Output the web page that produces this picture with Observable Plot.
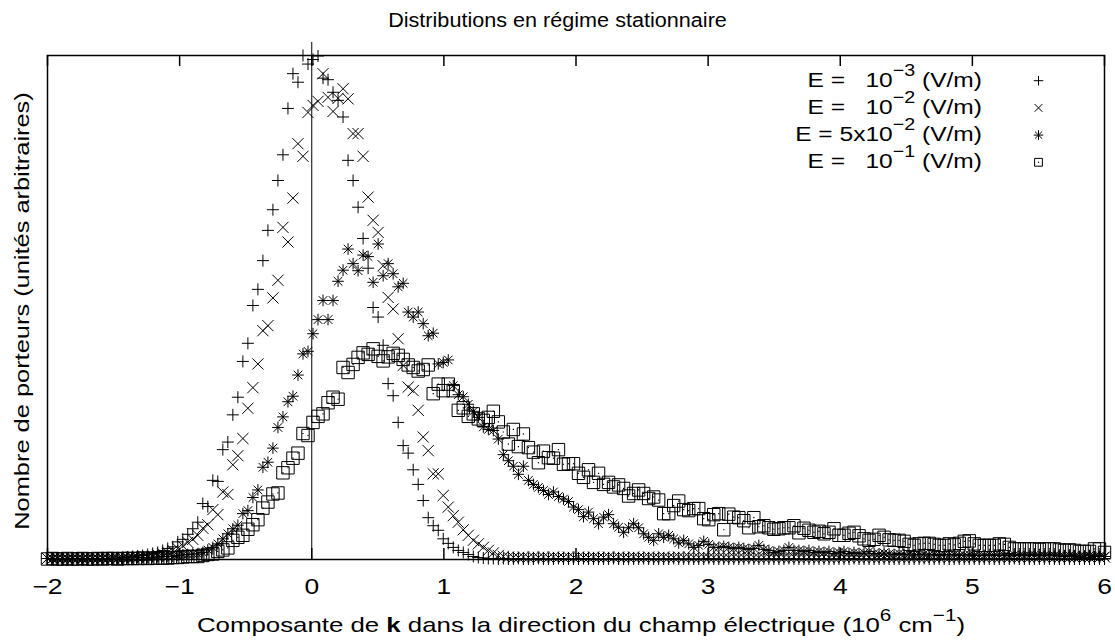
<!DOCTYPE html>
<html>
<head>
<meta charset="utf-8">
<script src="https://cdn.jsdelivr.net/npm/d3@7"></script>
<script src="https://cdn.jsdelivr.net/npm/@observablehq/plot@0.6"></script>
<style>
  body { margin: 0; background: #fff; }
  #chart svg { display: block; }
</style>
</head>
<body>
<div id="chart"></div>
<script>
// ---- data (k in 10^6 cm^-1, carrier count in arbitrary units) ----
const kMin = -2, kMax = 6, nBins = 212;
const xTicks = [-2, -1, 0, 1, 2, 3, 4, 5, 6];

const titleText = "Distributions en régime stationnaire";
const yLabelText = "Nombre de porteurs (unités arbitraires)";

// E = 1e-3 V/m  (+)
const e1 = [
  0.2,0.1,0.2,0.1,0.2,0.1,0.2,0.2,0.1,0.2,
  0.1,0.2,0.2,0.3,0.3,0.4,0.5,0.6,0.7,0.8,
  1.0,1.2,1.4,1.8,2.2,2.5,3.5,4.0,5.0,6.1,
  7.4,11.1,10.5,15.7,15.5,21.8,23.3,28.7,32.2,39.3,
  42.9,50.4,53.6,59.3,65.3,69.4,75.2,80.3,89.5,96.4,
  94.7,100,98.3,99.2,99.9,95.5,95.2,92.7,91.1,87.8,
  79.2,75.2,69.9,63.7,57.8,50.0,48.1,42.5,34.9,32.5,
  27.2,22.6,21.1,17.8,14.9,11.7,8.3,6.7,5.8,4.1,
  3.2,2.4,1.8,1.4,1.0,0.6,0.4,0.3,0.2,0.2,
  0.1,0.2,0.1,0.1,0.2,0.1,0.1,0.1,0.2,0.1,
  0.1,0.1,0.2,0.1,0.1,0.1,0.1,0.2,0.1,0.1,
  0.1,0.1,0.1,0.2,0.1,0.1,0.1,0.1,0.1,0.2,
  0.1,0.1,0.1,0.1,0.1,0.2,0.1,0.1,0.1,0.1,
  0.1,0.1,0.2,0.1,0.1,0.1,0.1,0.1,0.1,0.1,
  0.2,0.1,0.1,0.1,0.1,0.1,0.1,0.1,0.2,0.1,
  0.1,0.1,0.1,0.1,0.1,0.1,0.1,0.1,0.1,0.1,
  0.1,0.2,0.1,0.1,0.1,0.1,0.1,0.1,0.1,0.1,
  0.1,0.1,0.1,0.1,0.1,0.2,0.1,0.1,0.1,0.1,
  0.1,0.1,0.1,0.1,0.1,0.1,0.1,0.1,0.1,0.1,
  0.1,0.1,0.1,0.2,0.1,0.1,0.1,0.1,0.1,0.1,
  0.1,0.1,0.1,0.1,0.1,0.1,0.1,0.1,0.1,0.1,
  0.1,0.1
];

// E = 1e-2 V/m  (x)
const e2 = [
  0.2,0.2,0.3,0.2,0.2,0.3,0.2,0.2,0.3,0.2,
  0.2,0.3,0.2,0.3,0.2,0.3,0.3,0.4,0.4,0.5,
  0.6,0.7,0.9,1.1,1.4,1.8,2.2,2.7,3.4,4.0,
  4.8,6.2,6.9,9.9,8.9,13.4,12.9,18.8,20.6,24.0,
  30.0,34.1,38.8,45.4,46.4,51.9,55.4,65.9,63.0,71.7,
  82.5,80.0,88.7,90.1,90.9,96.4,91.7,88.9,91.5,93.4,
  91.4,84.5,84.5,80.0,71.9,67.3,64.9,58.3,52.0,49.7,
  43.8,38.5,34.2,33.5,29.6,24.3,21.6,17.0,17.0,12.7,
  10.4,8.7,7.4,5.9,4.8,3.8,3.1,2.4,1.8,1.3,
  0.8,0.6,0.5,0.4,0.4,0.5,0.4,0.5,0.4,0.5,
  0.4,0.5,0.4,0.4,0.5,0.4,0.5,0.4,0.4,0.5,
  0.4,0.4,0.5,0.4,0.5,0.4,0.4,0.5,0.4,0.4,
  0.5,0.4,0.4,0.5,0.4,0.4,0.5,0.4,0.5,0.4,
  0.4,0.5,0.4,0.4,0.5,0.4,0.4,0.5,0.4,0.4,
  0.5,0.4,0.4,0.4,0.5,0.4,0.5,0.4,0.4,0.5,
  0.4,0.4,0.5,0.4,0.4,0.5,0.4,0.4,0.4,0.5,
  0.4,0.5,0.4,0.4,0.5,0.4,0.4,0.5,0.4,0.4,
  0.5,0.4,0.4,0.5,0.4,0.4,0.4,0.5,0.4,0.5,
  0.4,0.4,0.5,0.4,0.4,0.5,0.4,0.4,0.5,0.4,
  0.4,0.5,0.4,0.4,0.4,0.5,0.4,0.4,0.5,0.4,
  0.5,0.4,0.4,0.5,0.4,0.4,0.5,0.4,0.4,0.5,
  0.4,0.5
];

// E = 5e-2 V/m  (*)
const e3 = [
  0.2,0.1,0.2,0.2,0.1,0.2,0.2,0.1,0.2,0.2,
  0.2,0.2,0.2,0.3,0.2,0.3,0.3,0.3,0.4,0.4,
  0.4,0.5,0.5,0.6,0.6,0.6,0.8,0.9,1.0,1.1,
  1.1,1.4,1.9,2.4,3.1,4.1,5.1,6.1,6.8,9.1,
  9.7,12.3,13.8,18.3,19.3,22.1,26.2,28.3,31.3,32.4,
  36.6,40.8,41.3,44.8,47.6,51.4,47.6,51.4,55.2,57.4,
  61.6,58.7,57.3,60.4,60.1,55.0,62.6,56.3,58.7,56.7,
  54.1,54.8,49.1,48.1,49.1,46.8,44.4,44.9,38.8,39.1,
  39.6,34.5,32.7,32.3,30.8,29.4,28.2,26.3,25.8,25.6,
  23.9,20.8,19.6,18.5,16.9,18.5,15.7,14.9,14.3,13.7,
  12.9,13.4,12.5,12.0,11.5,10.4,9.9,8.5,9.4,8.1,
  7.1,8.4,8.9,7.1,6.4,5.4,6.3,7.1,6.3,5.1,
  4.4,3.8,5.1,4.4,4.8,4.1,3.3,3.8,3.1,2.4,
  2.8,3.6,3.0,2.4,2.4,2.6,2.4,2.2,2.4,2.2,
  2.0,2.2,2.8,2.0,1.8,1.4,1.6,1.8,2.4,1.8,
  1.8,1.6,1.8,1.4,1.6,1.4,1.6,1.2,1.4,1.6,
  1.2,1.4,1.2,1.3,1.6,1.2,1.1,1.3,1.1,1.0,
  1.2,1.0,1.1,0.9,1.0,1.1,0.9,1.0,0.8,1.0,
  0.9,1.0,0.8,0.9,1.0,0.8,0.9,0.8,1.0,0.8,
  0.9,0.8,0.7,0.9,0.8,0.7,0.8,0.9,0.7,0.8,
  0.7,0.8,0.7,0.6,0.8,0.7,0.6,0.7,0.8,0.6,
  0.7,0.6
];

// E = 1e-1 V/m  (boxed dot)
const e4 = [
  0.1,0.2,0.1,0.1,0.2,0.1,0.1,0.2,0.1,0.1,
  0.2,0.1,0.2,0.2,0.1,0.2,0.2,0.2,0.2,0.3,
  0.2,0.3,0.3,0.3,0.3,0.4,0.4,0.5,0.6,0.6,
  0.6,0.8,1.0,1.1,1.6,1.9,2.3,3.8,4.4,4.8,
  6.0,6.9,7.9,10.2,11.4,13.0,13.2,17.2,18.2,20.1,
  21.1,25.0,24.6,27.2,28.4,28.9,31.1,32.2,31.8,38.1,
  37.1,38.7,40.1,41.0,40.7,41.8,40.3,39.4,40.2,40.9,
  40.5,39.7,38.6,38.1,37.4,37.7,38.6,32.9,34.8,33.5,
  34.8,33.5,29.6,30.1,28.4,28.9,27.9,27.6,28.2,29.4,
  27.3,25.3,22.9,25.8,22.4,24.9,22.2,21.3,19.2,21.5,
  20.2,20.1,21.8,18.9,19.0,19.0,17.1,16.3,17.8,15.3,
  17.1,14.9,15.3,14.4,14.8,14.1,12.6,13.1,13.8,13.1,
  12.1,12.4,11.8,9.1,9.1,10.7,11.6,9.9,9.7,10.1,
  10.1,8.1,7.9,8.9,9.1,5.9,9.0,8.4,8.3,7.7,
  6.3,8.3,6.5,6.7,6.3,6.0,6.1,6.3,6.3,6.7,
  5.3,6.2,5.8,5.4,5.6,5.1,5.4,6.1,4.8,4.8,
  5.2,5.4,4.7,4.1,3.8,4.0,4.8,4.4,3.9,3.8,
  3.8,3.6,3.0,2.8,3.1,3.2,3.2,3.0,2.8,2.8,
  3.1,2.9,3.2,3.6,3.7,3.1,2.8,2.8,2.8,2.8,
  3.1,3.0,2.4,2.1,2.1,2.1,2.1,2.1,2.0,2.1,
  2.1,2.1,1.9,1.8,1.9,1.8,1.6,1.6,1.6,2.1,
  2.1,1.4
];

const legendMain = ["E =   10", "E =   10", "E = 5x10", "E =   10"];
const legendExp  = ["−3", "−2", "−2", "−1"];
const legendUnit = " (V/m)";

// ---- build chart ----
const W = 1115, H = 644;
const FONT = "'Liberation Sans', Arial, Helvetica, sans-serif";
const FS = 21;          // font size
const STRETCH = 1.17;   // horizontal glyph stretch of the original PostScript font

const kGrid = d3.range(nBins).map(i => kMin + i * (kMax - kMin) / (nBins - 1));
const table = vals => vals.map((v, i) => ({k: kGrid[i], n: v}));

// stroke symbols with fixed pixel half-size
const plusSym  = h => ({draw(c) { c.moveTo(-h, 0); c.lineTo(h, 0); c.moveTo(0, -h); c.lineTo(0, h); }});
const timesSym = h => ({draw(c) { c.moveTo(-h, -h); c.lineTo(h, h); c.moveTo(-h, h); c.lineTo(h, -h); }});
const squareSym = h => ({draw(c) { c.rect(-h, -h, 2 * h, 2 * h); }});
const dotSym = h => ({draw(c) { c.rect(-h, -h, 2 * h, 2 * h); }});

const strokeOpts = {x: "k", y: "n", r: 5, fill: "none", stroke: "#000", strokeWidth: 1};

const plot = Plot.plot({
  width: W,
  height: H,
  marginLeft: 47,
  marginRight: 11,
  marginTop: 55,
  marginBottom: 85,
  style: {fontFamily: FONT, fontSize: FS + "px", background: "#fff", color: "#000", overflow: "visible"},
  x: {domain: [kMin, kMax]},
  y: {domain: [0, 100], axis: null},
  marks: [
    Plot.ruleX([0], {y1: 0, y2: 102.6, stroke: "#000", strokeWidth: 1}),
    Plot.dot(table(e1), {...strokeOpts, symbol: plusSym(6)}),
    Plot.dot(table(e2), {...strokeOpts, symbol: timesSym(5.6)}),
    Plot.dot(table(e3), {...strokeOpts, symbol: plusSym(5.8)}),
    Plot.dot(table(e3), {...strokeOpts, symbol: timesSym(4.3)}),
    Plot.dot(table(e4), {...strokeOpts, symbol: squareSym(6.2)}),
    Plot.dot(table(e4), {x: "k", y: "n", r: 1, fill: "#000", stroke: "none", symbol: dotSym(0.6)}),
    Plot.frame({stroke: "#000", strokeWidth: 1.5}),
    Plot.ruleX(xTicks, {y1: 0, y2: 2.2, stroke: "#000", strokeWidth: 1.5}),
    Plot.ruleX(xTicks, {y1: 100, y2: 97.8, stroke: "#000", strokeWidth: 1.5}),
    Plot.axisX({ticks: xTicks, tickSize: 0, tickPadding: 19, label: null, fontSize: 22,
                tickFormat: d => (d < 0 ? "−" + (-d) : String(d))})
  ]
});

document.getElementById("chart").appendChild(plot);
const svg = d3.select(plot);

// stretch axis tick labels horizontally like the original font
svg.selectAll('g[aria-label="x-axis tick label"] text').each(function () {
  const t = this.getAttribute("transform") || "";
  const x = +this.getAttribute("x") || 0;
  this.setAttribute("transform", `${t} translate(${x},0) scale(1.2,1) translate(${-x},0)`);
});

const RAISE = 11;
function rich(parts, transform, anchor) {
  const t = svg.append("text")
    .attr("transform", transform)
    .attr("text-anchor", anchor)
    .attr("font-family", FONT)
    .attr("font-size", FS)
    .attr("fill", "#000")
    .style("white-space", "pre");
  let shift = 0;
  for (const p of parts) {
    const target = p.sup ? -RAISE : 0;
    const ts = t.append("tspan").text(p.t);
    if (target !== shift) { ts.attr("dy", target - shift); shift = target; }
    if (p.sup) ts.attr("font-size", FS * 0.8);
    if (p.bold) ts.attr("font-weight", "bold");
  }
  return t;
}

// title
rich([{t: titleText}], `translate(557.5,27) scale(1.03,1)`, "middle");
// x label
rich([
  {t: "Composante de "}, {t: "k", bold: true}, {t: " dans la direction du champ électrique (10"},
  {t: "6", sup: true}, {t: " cm"}, {t: "−1", sup: true}, {t: ")"}
], `translate(581,632) scale(1.23,1)`, "middle");
// y label
rich([{t: yLabelText}], `translate(29,311) rotate(-90) scale(1.21,1)`, "middle");

// legend (inside the frame, top right)
const legendSyms = [[plusSym(4.8)], [timesSym(3.9)], [plusSym(4.8), timesSym(3.6)], [squareSym(3.9), dotSym(0.6)]];
legendMain.forEach((m, i) => {
  const by = 86.7 + i * 27.2;
  rich([{t: m}, {t: legendExp[i], sup: true}, {t: legendUnit}],
       `translate(982,${by}) scale(${STRETCH},1)`, "end");
  legendSyms[i].forEach((s, j) => {
    const p = d3.path();
    s.draw(p);
    svg.append("path")
      .attr("d", p.toString())
      .attr("transform", `translate(1038.5,${by - 6})`)
      .attr("fill", (i === 3 && j === 1) ? "#000" : "none")
      .attr("stroke", (i === 3 && j === 1) ? "none" : "#000")
      .attr("stroke-width", 1);
  });
});
</script>
</body>
</html>
